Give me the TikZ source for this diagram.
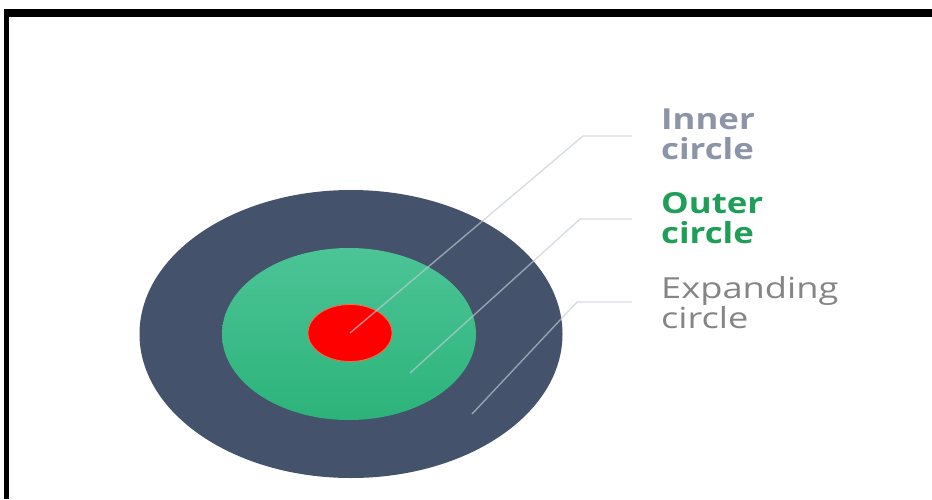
\documentclass[tikz,border=0pt]{standalone}
\usepackage{fontspec}
\setmainfont{Open Sans}
\newfontfamily\labelfont[FakeStretch=1.25,BoldFeatures={FakeStretch=1.2}]{Open Sans}
\usetikzlibrary{shapes.geometric}
\definecolor{darkring}{HTML}{44526B}
\definecolor{greentop}{HTML}{4CC496}
\definecolor{greenbot}{HTML}{2CB37A}
\definecolor{redcore}{HTML}{FF0000}
\definecolor{rededge}{HTML}{F0704A}
\definecolor{innertxt}{HTML}{8C94A7}
\definecolor{outertxt}{HTML}{1F9E57}
\definecolor{exptxt}{HTML}{858585}
\definecolor{leader}{HTML}{C4CCD6}
\tikzset{
  ring/.style={ellipse, inner sep=0pt, outer sep=0pt},
  leaderline/.style={draw=leader, opacity=0.65, line width=1.4pt},
  labeltext/.style={align=left, anchor=west, inner sep=0pt, font=\labelfont\fontsize{29}{30}\selectfont},
  framebar/.style={fill=black}
}
\begin{document}
\begin{tikzpicture}[x=1pt,y=-1pt]
\useasboundingbox (0,0) rectangle (932,499);
\fill[white] (0,0) rectangle (932,499);
% frame
\fill[framebar] (4,9) rectangle (932,17);
\fill[framebar] (4,9) rectangle (9,499);
% rings
\node[ring, fill=darkring, minimum width=423pt, minimum height=288pt] (expanding) at (351,334) {};
\node[ring, top color=greentop, bottom color=greenbot, minimum width=254pt, minimum height=172pt] (outer) at (349,334) {};
\node[ring, fill=redcore, draw=rededge, line width=0.8pt, minimum width=84pt, minimum height=57pt] (inner) at (350,333) {};
% labels
\node[labeltext, text=innertxt] (linner) at (661,134) {\bfseries Inner\\\bfseries circle};
\node[labeltext, text=outertxt] (louter) at (661,218) {\bfseries Outer\\\bfseries circle};
\node[labeltext, text=exptxt] (lexp) at (661,303) {Expanding\\circle};
% leader points
\coordinate (s1) at (inner.center);
\coordinate (k1) at (583,136);
\coordinate (e1) at (632,136);
\coordinate (s2) at (410,373);
\coordinate (k2) at (580,219);
\coordinate (e2) at (632,219);
\coordinate (s3) at (472,414);
\coordinate (k3) at (577,302);
\coordinate (e3) at (632,302);
\draw[leaderline] (s1) -- (k1) -- (e1);
\draw[leaderline] (s2) -- (k2) -- (e2);
\draw[leaderline] (s3) -- (k3) -- (e3);
\end{tikzpicture}
\end{document}
